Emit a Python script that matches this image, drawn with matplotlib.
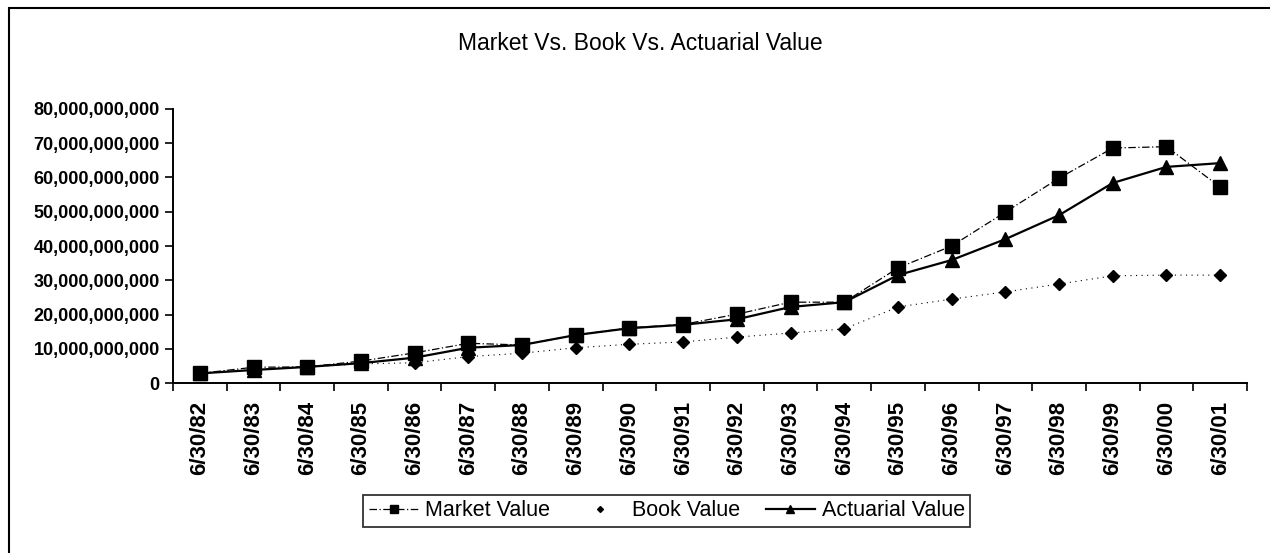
import matplotlib.pyplot as plt
import numpy as np
from matplotlib.lines import Line2D
from matplotlib.ticker import FuncFormatter, FixedLocator

plt.rcParams['font.family'] = ['Liberation Sans', 'DejaVu Sans']

# values, in billions
dates = ['6/30/82', '6/30/83', '6/30/84', '6/30/85', '6/30/86', '6/30/87', '6/30/88',
         '6/30/89', '6/30/90', '6/30/91', '6/30/92', '6/30/93', '6/30/94', '6/30/95',
         '6/30/96', '6/30/97', '6/30/98', '6/30/99', '6/30/00', '6/30/01']
market = [2.8, 4.6, 4.7, 6.4, 8.8, 11.6, 11.1, 14.0, 16.1, 17.1,
          20.1, 23.6, 23.6, 33.6, 40.0, 49.9, 59.8, 68.6, 69.0, 57.2]
book = [2.8, 3.9, 4.7, 5.6, 5.9, 7.7, 8.7, 10.3, 11.3, 12.0,
        13.4, 14.6, 15.8, 22.2, 24.5, 26.6, 28.9, 31.3, 31.5, 31.5]
actuarial = [2.8, 3.8, 4.7, 5.8, 7.4, 10.3, 11.1, 14.0, 16.0, 17.0,
             18.6, 22.2, 23.6, 31.5, 35.9, 42.0, 49.0, 58.4, 63.1, 64.2]

x = np.arange(len(dates))
market = np.array(market) * 1e9
book = np.array(book) * 1e9
actuarial = np.array(actuarial) * 1e9

fig = plt.figure(figsize=(12.7, 5.53), dpi=100)
ax = fig.add_axes([0.1362, 0.3074, 0.8457, 0.4955])

# frame round the whole chart (right and bottom edges run off the picture)
fig.add_artist(plt.Rectangle((9 / 1270, -0.05), 1.1, 1 - 8 / 553 + 0.05,
                             transform=fig.transFigure, fill=False,
                             edgecolor='black', linewidth=1.5))

l1, = ax.plot(x, market, color='black', lw=0.9, ls=(0, (6, 2, 1, 2)),
              marker='s', ms=10.5, label='Market Value')
l2, = ax.plot(x, book, color='black', lw=0.8, ls=(0, (1, 4)),
              marker='D', ms=6, label='Book Value')
l3, = ax.plot(x, actuarial, color='black', lw=1.6, ls='-',
              marker='^', ms=10, label='Actuarial Value')

ax.set_xlim(-0.5, len(dates) - 0.5)
ax.set_ylim(0, 80e9)
ax.set_yticks(np.arange(0, 80e9 + 1, 10e9))
ax.yaxis.set_major_formatter(FuncFormatter(lambda v, p: f'{int(v):,}'))
ax.set_xticks(x)
ax.set_xticklabels(dates, rotation=90, fontsize=16, fontweight='bold')
ax.xaxis.set_minor_locator(FixedLocator(np.arange(-0.5, len(dates), 1.0)))
ax.tick_params(axis='x', which='major', length=0, pad=13)
ax.tick_params(axis='x', which='minor', length=6, width=1.2, direction='out')
ax.tick_params(axis='y', length=6, width=1.2, direction='out', labelsize=13)
for lab in ax.get_yticklabels():
    lab.set_fontweight('bold')

for side in ['top', 'right']:
    ax.spines[side].set_visible(False)
for side in ['left', 'bottom']:
    ax.spines[side].set_linewidth(1.4)

fig.text(0.504, 0.922, 'Market Vs. Book Vs. Actuarial Value', ha='center', va='center',
         fontsize=16.5)

book_handle = Line2D([], [], color='black', ls='none', marker='D', ms=5)
leg = fig.legend([l1, book_handle, l3], ['Market Value', 'Book Value', 'Actuarial Value'],
                 loc='center', bbox_to_anchor=(0.525, 0.076), ncol=3, fontsize=15.5,
                 frameon=True, fancybox=False, edgecolor='black', handlelength=2.3,
                 handletextpad=0.3, columnspacing=1.2, borderpad=0.25, markerscale=0.6)
leg.get_frame().set_linewidth(1.3)

fig.savefig('out.png', dpi=100, facecolor='white')
